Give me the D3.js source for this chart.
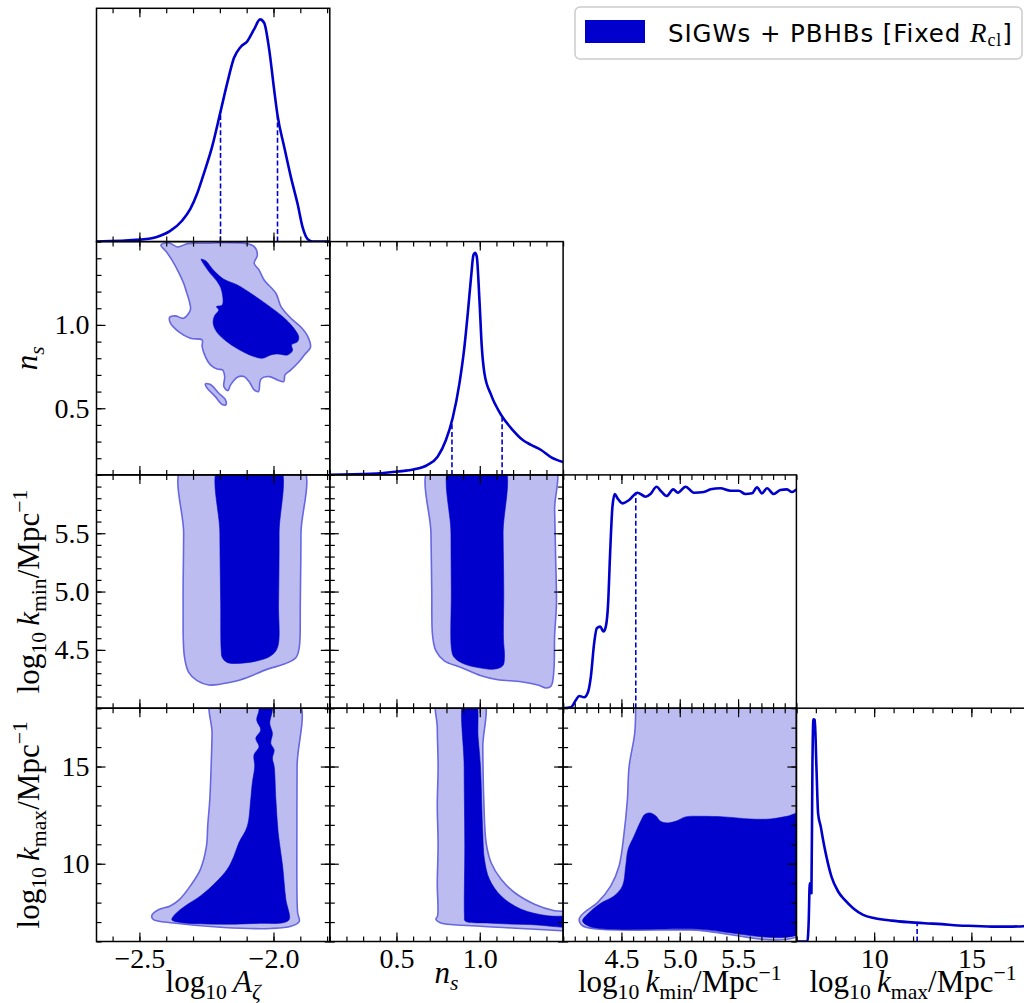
<!DOCTYPE html>
<html>
<head>
<meta charset="utf-8">
<script src="https://cdn.jsdelivr.net/npm/d3@7"></script>
<style>
  html, body { margin: 0; padding: 0; background: #fff; }
  svg { display: block; }
</style>
</head>
<body>
<svg id="chart" width="1024" height="1003"></svg>
<script>
// ---------- parameters of the corner plot ----------
const paramDomains = [[-2.66, -1.79], [0.1, 1.5], [4.0, 6.0], [6.0, 18.0]];
const majorTicks = [[-2.5, -2.0], [0.5, 1.0], [4.5, 5.0, 5.5], [10, 15]];
const tickLabels = [["−2.5", "−2.0"], ["0.5", "1.0"], ["4.5", "5.0", "5.5"], ["10", "15"]];
const minorSteps = [0.1, 0.1, 0.1, 1];
const legendLabel = "SIGWs + PBHBs [Fixed ";

// ---------- 1D marginal posteriors (normalised to peak = 1) ----------
const margLogA = [[-2.66,0],[-2.4975,0.009],[-2.435,0.021],[-2.385,0.048],[-2.341,0.094],[-2.31,0.147],[-2.285,0.215],[-2.26,0.305],[-2.229,0.426],[-2.1975,0.585],[-2.1725,0.713],[-2.1475,0.826],[-2.1225,0.876],[-2.0975,0.902],[-2.0725,0.955],[-2.05,1.0],[-2.035,0.985],[-2.016,0.864],[-1.9975,0.683],[-1.985,0.569],[-1.96,0.426],[-1.935,0.29],[-1.91,0.169],[-1.891,0.063],[-1.8725,0.011],[-1.854,0],[-1.789,0]];
const margNs = [[0.1,0],[0.346,0.0045],[0.507,0.015],[0.607,0.025],[0.687,0.045],[0.747,0.082],[0.797,0.157],[0.837,0.255],[0.878,0.412],[0.908,0.577],[0.928,0.727],[0.948,0.892],[0.962,0.99],[0.972,1.0],[0.982,0.982],[0.998,0.787],[1.012,0.577],[1.028,0.457],[1.068,0.36],[1.128,0.27],[1.198,0.202],[1.258,0.157],[1.308,0.135],[1.368,0.112],[1.429,0.079],[1.5,0.058]];
const margKmin = [[4.0,0],[4.067,0.0045],[4.11,0.037],[4.138,0.055],[4.181,0.049],[4.215,0.075],[4.238,0.142],[4.266,0.292],[4.289,0.36],[4.318,0.367],[4.346,0.345],[4.366,0.367],[4.386,0.472],[4.403,0.697],[4.423,0.907],[4.443,0.964],[4.466,0.945],[4.509,0.922],[4.566,0.937],[4.637,0.97],[4.708,0.952],[4.749,0.964],[4.801,0.997],[4.842,0.975],[4.887,0.955],[4.944,0.985],[4.984,0.97],[5.05,0.997],[5.121,0.97],[5.207,0.973],[5.264,0.985],[5.349,0.99],[5.434,0.979],[5.506,0.979],[5.563,0.964],[5.62,0.967],[5.662,0.994],[5.705,0.967],[5.748,0.99],[5.805,0.964],[5.862,0.982],[5.919,0.985],[5.962,0.973],[6.0,0.985]];
const margKmax = [[6.0,0],[6.567,0],[6.635,0.097],[6.687,0.262],[6.773,0.217],[6.824,0.787],[6.876,1.0],[6.944,0.997],[7.03,0.787],[7.116,0.577],[7.253,0.517],[7.373,0.457],[7.545,0.382],[7.803,0.292],[8.146,0.225],[8.489,0.187],[8.918,0.15],[9.433,0.12],[10.034,0.105],[10.893,0.094],[11.751,0.087],[12.609,0.082],[13.468,0.078],[14.326,0.072],[15.185,0.07],[16.043,0.067],[16.901,0.067],[18.0,0.07]];

// credible-interval limits marked by dashed lines
const boundsLogA = [-2.1975, -1.985];
const boundsNs = [0.833, 1.134];
const boundsKmin = [4.623];
const boundsKmax = [12.21];

// ---------- 2D contours (95% = outer, 68% = inner) ----------
const nsLogA95 = [[-2.42,1.48],[-2.39,1.492],[-2.357,1.468],[-2.32,1.488],[-2.25,1.49],[-2.185,1.494],[-2.10,1.488],[-2.072,1.47],[-2.06,1.42],[-2.072,1.37],[-2.054,1.33],[-2.035,1.27],[-1.991,1.19],[-1.972,1.11],[-1.935,1.04],[-1.897,0.986],[-1.872,0.93],[-1.862,0.866],[-1.885,0.82],[-1.904,0.78],[-1.935,0.73],[-1.957,0.70],[-1.962,0.66],[-1.985,0.67],[-2.016,0.69],[-2.047,0.674],[-2.056,0.60],[-2.072,0.61],[-2.091,0.66],[-2.11,0.69],[-2.135,0.686],[-2.16,0.64],[-2.17,0.606],[-2.185,0.63],[-2.182,0.69],[-2.19,0.73],[-2.21,0.735],[-2.235,0.76],[-2.254,0.81],[-2.266,0.87],[-2.266,0.91],[-2.31,0.92],[-2.354,0.96],[-2.385,1.014],[-2.387,1.046],[-2.366,1.054],[-2.335,1.04],[-2.31,1.09],[-2.312,1.13],[-2.325,1.2],[-2.335,1.25],[-2.355,1.32],[-2.379,1.39],[-2.40,1.44]];
const nsLogA95Island = [[-2.254,0.646],[-2.235,0.642],[-2.204,0.59],[-2.179,0.55],[-2.178,0.52],[-2.191,0.522],[-2.216,0.568],[-2.248,0.622]];
const nsLogA68 = [[-2.27,1.394],[-2.254,1.386],[-2.2225,1.326],[-2.185,1.274],[-2.135,1.24],[-2.085,1.19],[-2.0225,1.12],[-1.966,1.05],[-1.929,0.99],[-1.906,0.93],[-1.91,0.90],[-1.9325,0.88],[-1.929,0.846],[-1.9475,0.82],[-1.985,0.826],[-2.01,0.82],[-2.041,0.80],[-2.0725,0.81],[-2.11,0.836],[-2.1475,0.87],[-2.185,0.914],[-2.2125,0.96],[-2.225,1.01],[-2.22,1.054],[-2.204,1.09],[-2.2125,1.11],[-2.191,1.12],[-2.194,1.21],[-2.21,1.26],[-2.241,1.32],[-2.266,1.38]];

const kminLogA95 = [[-2.335,6.1],[-2.335,5.5],[-2.337,4.9],[-2.3325,4.449],[-2.316,4.307],[-2.285,4.236],[-2.241,4.199],[-2.16,4.222],[-2.0975,4.264],[-2.0225,4.335],[-1.96,4.378],[-1.916,4.435],[-1.904,4.52],[-1.9,4.9],[-1.8975,5.5],[-1.8975,6.1]];
const kminLogA68 = [[-2.2,6.1],[-2.2,5.5],[-2.197,4.9],[-2.195,4.5],[-2.191,4.435],[-2.1725,4.392],[-2.135,4.384],[-2.06,4.406],[-2.01,4.449],[-1.985,4.52],[-1.981,4.9],[-1.979,5.5],[-1.982,6.1]];

const kmaxLogA95 = [[-2.229,18.5],[-2.229,16.71],[-2.2325,15.0],[-2.2375,13.29],[-2.245,12.0],[-2.25,10.9],[-2.2725,9.71],[-2.31,8.86],[-2.35,8.17],[-2.385,7.83],[-2.429,7.63],[-2.454,7.32],[-2.4475,7.12],[-2.3725,6.95],[-2.185,6.72],[-2.01,6.67],[-1.935,6.78],[-1.904,7.03],[-1.91,7.49],[-1.913,10],[-1.912,15],[-1.9125,18.5]];
const kmaxLogA68 = [[-2.054,18.5],[-2.054,17.9],[-2.0625,17.39],[-2.0475,16.88],[-2.066,16.45],[-2.054,16.02],[-2.0725,15.6],[-2.07,15.0],[-2.079,14.15],[-2.085,13.29],[-2.0975,11.93],[-2.129,11.08],[-2.1475,10.39],[-2.1725,9.71],[-2.216,9.03],[-2.2725,8.34],[-2.329,7.83],[-2.366,7.41],[-2.379,7.12],[-2.3475,6.98],[-2.185,6.89],[-2.06,6.93],[-1.96,6.98],[-1.941,7.15],[-1.954,8.17],[-1.966,9.88],[-1.9825,11.59],[-1.991,13.29],[-1.9975,15.0],[-2.004,15.43],[-1.9975,15.85],[-2.01,16.19],[-2.004,16.71],[-2.014,17.22],[-2.004,17.9],[-2.004,18.5]];

const kminNs95 = [[0.707,6.1],[0.707,5.5],[0.712,5.0],[0.717,4.619],[0.737,4.491],[0.787,4.406],[0.888,4.349],[1.008,4.278],[1.108,4.244],[1.248,4.227],[1.348,4.199],[1.399,4.173],[1.429,4.193],[1.445,4.335],[1.449,4.619],[1.46,4.9],[1.455,5.3],[1.449,5.7],[1.44,6.1]];
const kminNs68 = [[0.827,6.1],[0.827,5.5],[0.829,5.0],[0.831,4.5],[0.847,4.435],[0.908,4.378],[1.008,4.344],[1.088,4.335],[1.138,4.364],[1.148,4.435],[1.142,4.6],[1.144,5.0],[1.14,5.5],[1.138,6.1]];

const kmaxNs95 = [[0.747,18.5],[0.745,17],[0.75,15],[0.745,13],[0.75,11],[0.745,9],[0.747,7.32],[0.737,7.15],[0.767,6.95],[0.948,6.81],[1.248,6.67],[1.493,6.55],[1.6,6.5],[1.6,7.45],[1.449,7.58],[1.328,7.92],[1.208,8.52],[1.128,9.2],[1.068,10.05],[1.038,11.08],[1.024,13.29],[1.018,16],[1.018,18.5]];
const kmaxNs68 = [[0.908,18.5],[0.906,15],[0.91,11],[0.908,7.32],[0.912,7.06],[1.048,6.95],[1.3,6.87],[1.6,6.82],[1.6,7.22],[1.409,7.32],[1.248,7.66],[1.128,8.34],[1.058,9.2],[1.028,10.22],[1.018,11.59],[1.004,15.0],[0.99,16.5],[0.972,18.5]];

const kmaxKmin95 = [[4.622,18.5],[4.622,17.9],[4.614,16.71],[4.566,15.0],[4.551,13.29],[4.523,11.59],[4.48,9.88],[4.409,8.86],[4.295,8.0],[4.181,7.49],[4.138,7.15],[4.167,6.81],[4.295,6.64],[5.093,6.6],[6.1,6.6],[6.1,18.5]];
const kmaxKmin68 = [[4.167,7.06],[4.224,7.49],[4.323,7.97],[4.437,8.34],[4.509,8.86],[4.537,9.88],[4.557,10.73],[4.608,11.42],[4.665,12.18],[4.699,12.53],[4.745,12.61],[4.793,12.47],[4.836,12.18],[4.893,12.1],[4.964,12.18],[5.05,12.41],[5.178,12.44],[5.377,12.41],[5.605,12.3],[5.776,12.3],[5.919,12.44],[6.1,12.65],[6.1,6.65],[5.093,6.65],[4.3,6.68],[4.2,6.85]];

// ---------- styling & layout ----------
const DARK = "#0000cc", LIGHT = "#bcbcf0", EDGE = "#6767e0";
const LEFT = 96.5, TOP = 8.3, CELL = 233.3;
const SERIF = "'Liberation Serif', 'DejaVu Serif', serif";
const SANS = "'DejaVu Sans', 'Liberation Sans', sans-serif";
const TICK_FONT = 28, LABEL_FONT = 31;

const svg = d3.select("#chart");
const defs = svg.append("defs");
const layerData = svg.append("g");
const layerAxes = svg.append("g");

const xScale = c => d3.scaleLinear().domain(paramDomains[c]).range([LEFT + c * CELL, LEFT + (c + 1) * CELL]);
const yScale = r => d3.scaleLinear().domain(paramDomains[r]).range([TOP + (r + 1) * CELL, TOP + r * CELL]);
const densityScale = r => d3.scaleLinear().domain([0, 1.05]).range([TOP + (r + 1) * CELL, TOP + r * CELL]);

function clipFor(r, c) {
  const id = `clip-${r}-${c}`;
  defs.append("clipPath").attr("id", id).append("rect")
    .attr("x", LEFT + c * CELL).attr("y", TOP + r * CELL)
    .attr("width", CELL).attr("height", CELL);
  return `url(#${id})`;
}

function drawContours(r, c, outer, inner) {
  const x = xScale(c), y = yScale(r);
  const g = layerData.append("g").attr("clip-path", clipFor(r, c));
  const path = d3.line().x(d => x(d[0])).y(d => y(d[1])).curve(d3.curveCatmullRomClosed.alpha(0.5));
  outer.forEach(pts => g.append("path").attr("d", path(pts))
    .attr("fill", LIGHT).attr("stroke", EDGE).attr("stroke-width", 1.6));
  inner.forEach(pts => g.append("path").attr("d", path(pts))
    .attr("fill", DARK).attr("stroke", DARK).attr("stroke-width", 0.6));
}

function valueAt(pts, v) {
  for (let i = 0; i < pts.length - 1; i++) {
    const [a, pa] = pts[i], [b, pb] = pts[i + 1];
    if (v >= a && v <= b) return pa + (pb - pa) * (v - a) / (b - a);
  }
  return 0;
}

function drawMarginal(c, pts, bounds) {
  const x = xScale(c), y = densityScale(c);
  const g = layerData.append("g").attr("clip-path", clipFor(c, c));
  g.append("path").datum(pts)
    .attr("d", d3.line().x(d => x(d[0])).y(d => y(d[1])).curve(d3.curveMonotoneX))
    .attr("fill", "none").attr("stroke", DARK).attr("stroke-width", 2.6).attr("stroke-linejoin", "round");
  g.selectAll("line.bound").data(bounds).join("line").attr("class", "bound")
    .attr("x1", d => x(d)).attr("x2", d => x(d))
    .attr("y1", y(0)).attr("y2", d => y(valueAt(pts, d)))
    .attr("stroke", DARK).attr("stroke-width", 1.6).attr("stroke-dasharray", "5,2.6");
}

function minorValues(c) {
  const [d0, d1] = paramDomains[c], s = minorSteps[c];
  return d3.range(Math.ceil(d0 / s - 1e-9), Math.floor(d1 / s + 1e-9) + 1).map(i => +(i * s).toFixed(6));
}

function styleAxis(g) {
  g.select(".domain").remove();
  g.selectAll(".tick line").attr("stroke", "#000").attr("stroke-width", 1.2);
  g.attr("font-family", SERIF).attr("font-size", TICK_FONT);
  g.selectAll("text").attr("fill", "#000");
}

function drawAxes(r, c) {
  const x = xScale(c);
  const x0 = LEFT + c * CELL, y0 = TOP + r * CELL;
  const xLabels = r === 3 ? ((d, i) => tickLabels[c][i]) : () => "";
  // bottom & top (ticks point inwards)
  layerAxes.append("g").attr("transform", `translate(0,${y0 + CELL})`)
    .call(d3.axisBottom(x).tickValues(minorValues(c)).tickSize(-5).tickFormat("")).call(styleAxis);
  layerAxes.append("g").attr("transform", `translate(0,${y0 + CELL})`)
    .call(d3.axisBottom(x).tickValues(majorTicks[c]).tickSize(-9).tickPadding(7).tickFormat(xLabels)).call(styleAxis);
  layerAxes.append("g").attr("transform", `translate(0,${y0})`)
    .call(d3.axisTop(x).tickValues(minorValues(c)).tickSize(-5).tickFormat("")).call(styleAxis);
  layerAxes.append("g").attr("transform", `translate(0,${y0})`)
    .call(d3.axisTop(x).tickValues(majorTicks[c]).tickSize(-9).tickFormat("")).call(styleAxis);
  if (r !== c) {
    const y = yScale(r);
    const yLabels = c === 0 ? ((d, i) => tickLabels[r][i]) : () => "";
    layerAxes.append("g").attr("transform", `translate(${x0},0)`)
      .call(d3.axisLeft(y).tickValues(minorValues(r)).tickSize(-5).tickFormat("")).call(styleAxis);
    layerAxes.append("g").attr("transform", `translate(${x0},0)`)
      .call(d3.axisLeft(y).tickValues(majorTicks[r]).tickSize(-9).tickPadding(7).tickFormat(yLabels)).call(styleAxis);
    layerAxes.append("g").attr("transform", `translate(${x0 + CELL},0)`)
      .call(d3.axisRight(y).tickValues(minorValues(r)).tickSize(-5).tickFormat("")).call(styleAxis);
    layerAxes.append("g").attr("transform", `translate(${x0 + CELL},0)`)
      .call(d3.axisRight(y).tickValues(majorTicks[r]).tickSize(-9).tickFormat("")).call(styleAxis);
  }
  layerAxes.append("rect").attr("x", x0).attr("y", y0).attr("width", CELL).attr("height", CELL)
    .attr("fill", "none").attr("stroke", "#000").attr("stroke-width", 1.5);
}

// ---------- panels ----------
drawMarginal(0, margLogA, boundsLogA);
drawMarginal(1, margNs, boundsNs);
drawMarginal(2, margKmin, boundsKmin);
drawMarginal(3, margKmax, boundsKmax);

drawContours(1, 0, [nsLogA95, nsLogA95Island], [nsLogA68]);
drawContours(2, 0, [kminLogA95], [kminLogA68]);
drawContours(3, 0, [kmaxLogA95], [kmaxLogA68]);
drawContours(2, 1, [kminNs95], [kminNs68]);
drawContours(3, 1, [kmaxNs95], [kmaxNs68]);
drawContours(3, 2, [kmaxKmin95], [kmaxKmin68]);

for (let r = 0; r < 4; r++) for (let c = 0; c <= r; c++) drawAxes(r, c);

// ---------- axis titles ----------
const titles = [
  [{t: "log"}, {t: "10", sub: true}, {t: "\u2009"}, {t: "A", i: true}, {t: "ζ", i: true, sub: true}],
  [{t: "n", i: true}, {t: "s", i: true, sub: true}],
  [{t: "log"}, {t: "10", sub: true}, {t: "\u2009"}, {t: "k", i: true}, {t: "min", sub: true}, {t: "/Mpc"}, {t: "−1", sup: true}],
  [{t: "log"}, {t: "10", sub: true}, {t: "\u2009"}, {t: "k", i: true}, {t: "max", sub: true}, {t: "/Mpc"}, {t: "−1", sup: true}]
];
// titles are top-aligned, so a title without ascenders sits higher
const titleBaselineX = [992, 983, 992, 992];
const titleBaselineY = [39, 37, 39, 39];

function richText(textSel, parts, size) {
  let shift = 0;
  parts.forEach(p => {
    const target = p.sub ? 0.22 * size : p.sup ? -0.4 * size : 0;
    const ts = textSel.append("tspan").text(p.t).attr("dy", target - shift);
    shift = target;
    if (p.i) ts.attr("font-style", "italic");
    if (p.sub || p.sup) ts.attr("font-size", size * 0.7);
  });
}

titles.forEach((parts, c) => {
  const t = svg.append("text").attr("x", LEFT + (c + 0.5) * CELL).attr("y", titleBaselineX[c])
    .attr("text-anchor", "middle").attr("font-family", SERIF).attr("font-size", LABEL_FONT).attr("fill", "#000");
  richText(t, parts, LABEL_FONT);
});
for (let r = 1; r < 4; r++) {
  const cy = TOP + (r + 0.5) * CELL;
  const t = svg.append("text").attr("transform", `translate(${titleBaselineY[r]},${cy}) rotate(-90)`)
    .attr("text-anchor", "middle").attr("font-family", SERIF).attr("font-size", LABEL_FONT).attr("fill", "#000");
  richText(t, titles[r], LABEL_FONT);
}

// ---------- legend ----------
const lg = svg.append("g");
lg.append("rect").attr("x", 575).attr("y", 7).attr("width", 447).attr("height", 52).attr("rx", 5)
  .attr("fill", "#fff").attr("stroke", "#cccccc").attr("stroke-width", 1.5);
lg.append("rect").attr("x", 585).attr("y", 20).attr("width", 60).attr("height", 23).attr("fill", DARK);
const lt = lg.append("text").attr("x", 668).attr("y", 42).attr("font-family", SANS).attr("font-size", 24.5)
  .attr("letter-spacing", 0.9).attr("fill", "#000");
lt.append("tspan").text(legendLabel);
lt.append("tspan").text("R").attr("font-family", SERIF).attr("font-style", "italic").attr("font-size", 27);
lt.append("tspan").text("cl").attr("font-family", SERIF).attr("font-size", 18).attr("dy", 4);
lt.append("tspan").text("]").attr("dy", -4);
</script>
</body>
</html>
